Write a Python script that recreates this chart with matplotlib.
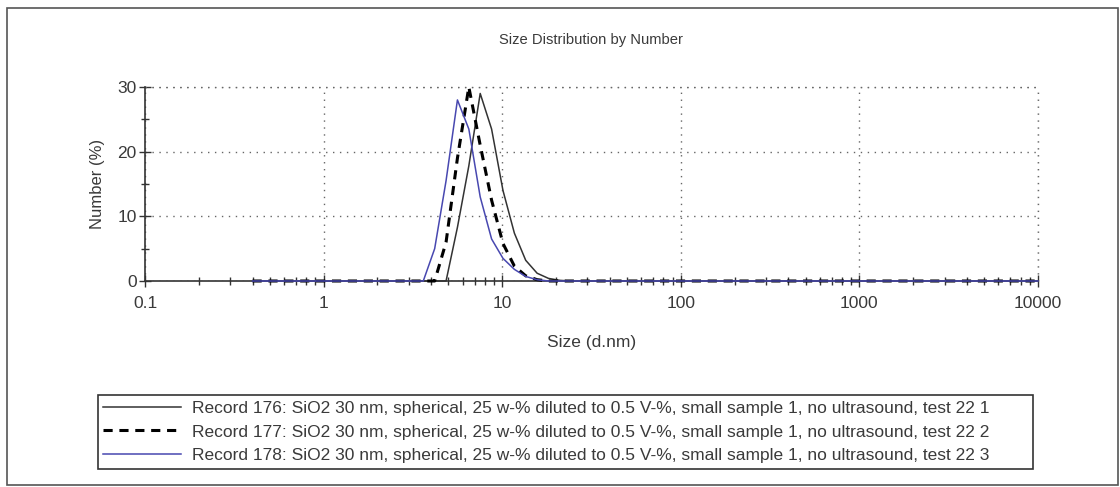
import matplotlib
matplotlib.use("Agg")
import matplotlib.pyplot as plt
from matplotlib.lines import Line2D
from matplotlib.patches import Rectangle

plt.rcParams['font.family'] = ['Liberation Sans', 'DejaVu Sans']

# Size bins (d.nm) and number distributions (%)
sizes = [0.4, 3.122, 3.615, 4.187, 4.849, 5.615, 6.503, 7.531, 8.721,
         10.1, 11.7, 13.54, 15.69, 18.17, 21.04, 24.36, 10000]
rec176 = [0, 0, 0, 0, 0, 8.3, 17.8, 29.0, 23.5, 14.0, 7.4, 3.2, 1.2, 0.4, 0.1, 0, 0]
rec177 = [0, 0, 0, 0, 6.0, 19.0, 30.0, 21.0, 12.5, 5.8, 2.3, 0.8, 0.2, 0, 0, 0, 0]
rec178 = [0, 0, 0, 5.0, 15.5, 28.0, 23.5, 13.0, 6.5, 3.5, 1.8, 0.7, 0.2, 0, 0, 0, 0]

labels = [
    "Record 176: SiO2 30 nm, spherical, 25 w-% diluted to 0.5 V-%, small sample 1, no ultrasound, test 22 1",
    "Record 177: SiO2 30 nm, spherical, 25 w-% diluted to 0.5 V-%, small sample 1, no ultrasound, test 22 2",
    "Record 178: SiO2 30 nm, spherical, 25 w-% diluted to 0.5 V-%, small sample 1, no ultrasound, test 22 3",
]
title = "Size Distribution by Number"
xlabel = "Size (d.nm)"
ylabel = "Number (%)"
xticks = [0.1, 1, 10, 100, 1000, 10000]
xticklabels = ["0.1", "1", "10", "100", "1000", "10000"]
yticks = [0, 10, 20, 30]

W, H = 1120, 487
fig = plt.figure(figsize=(W / 100, H / 100), dpi=100)
fig.patch.set_facecolor("white")

# outer frame
fig.patches.append(Rectangle((7 / W, 1 - 485 / H), (1118 - 7) / W, (485 - 8) / H,
                             transform=fig.transFigure, fill=False,
                             edgecolor="#555555", linewidth=1.2))

ax = fig.add_axes([145 / W, 1 - 281 / H, (1038 - 145) / W, (281 - 87) / H])
ax.set_xscale("log")
ax.set_xlim(0.1, 10000)
ax.set_ylim(0, 30)

c_black = "#333333"
c_blue = "#4848b0"
ax.plot(sizes, rec176, color=c_black, lw=1.1, clip_on=False, zorder=3)
ax.plot(sizes, rec177, color="black", lw=2.2, ls=(0, (3, 2.2)), clip_on=False, zorder=4)
ax.plot(sizes, rec178, color=c_blue, lw=1.1, clip_on=False, zorder=5)

for s in ["top", "right"]:
    ax.spines[s].set_visible(False)
for s in ["left", "bottom"]:
    ax.spines[s].set_color("#333333")
    ax.spines[s].set_linewidth(1.2)

tc = "#3a3a3a"
ax.set_xticks(xticks)
ax.set_xticklabels(xticklabels)
ax.set_yticks(yticks)
ax.set_yticks([5, 15, 25], minor=True)
ax.tick_params(axis="both", which="major", direction="inout", length=8, width=1,
               color="#333333", labelsize=12.5, labelcolor=tc)
ax.tick_params(axis="both", which="minor", direction="inout", length=6, width=1,
               color="#333333")
ax.tick_params(axis="x", which="major", pad=7)
ax.tick_params(axis="y", which="major", pad=2)

ax.grid(True, which="major", axis="both", color="#666666", ls=(0, (1, 4)), lw=1)
ax.axhline(30, color="#666666", ls=(0, (1, 4)), lw=1, clip_on=False)
ax.axvline(10000, color="#666666", ls=(0, (1, 4)), lw=1, clip_on=False)

ax.set_xlabel(xlabel, fontsize=12.5, color=tc, labelpad=17)
ax.set_ylabel(ylabel, fontsize=12, color=tc, labelpad=9)
fig.text(591 / W, 1 - 40 / H, title, ha="center", va="center", fontsize=10.6, color=tc)

handles = [
    Line2D([], [], color=c_black, lw=1.1),
    Line2D([], [], color="black", lw=2.2, ls=(0, (3, 2.2))),
    Line2D([], [], color=c_blue, lw=1.1),
]
leg = fig.legend(handles, labels, loc="center left",
                 bbox_to_anchor=(98 / W, 1 - 470 / H, (1033 - 98) / W, (470 - 394) / H),
                 mode="expand", ncol=1, fontsize=12.5, frameon=True, fancybox=False,
                 edgecolor="#333333", framealpha=1, handlelength=4.5, handletextpad=0.6,
                 borderaxespad=0, labelspacing=0.5, borderpad=0.3)
leg.get_frame().set_linewidth(1.2)
for t in leg.get_texts():
    t.set_color(tc)

fig.savefig("out.png", dpi=100)
